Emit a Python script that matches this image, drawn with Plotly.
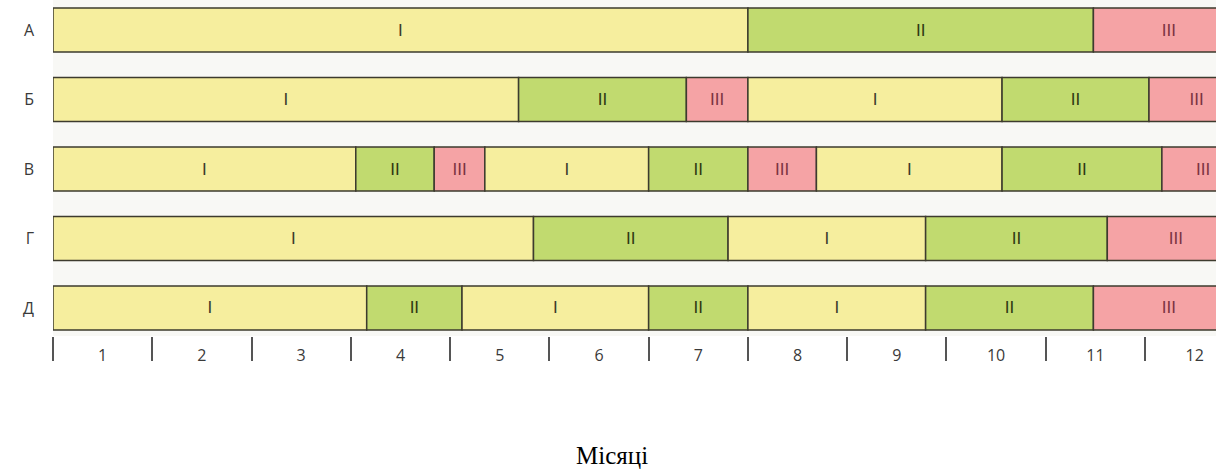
import plotly.graph_objects as go

# rows (top to bottom) and their phases; ends are in months from the start of month 1
rows = ["А", "Б", "В", "Г", "Д"]

phases_a = ["I", "II", "III"]
ends_a = [7.0, 10.48, 12.0]

phases_b = ["I", "II", "III", "I", "II", "III"]
ends_b = [4.69, 6.38, 7.0, 9.56, 11.04, 12.0]

phases_v = ["I", "II", "III", "I", "II", "III", "I", "II", "III"]
ends_v = [3.05, 3.84, 4.35, 6.0, 7.0, 7.69, 9.56, 11.17, 12.0]

phases_g = ["I", "II", "I", "II", "III"]
ends_g = [4.84, 6.8, 8.79, 10.62, 12.0]

phases_d = ["I", "II", "I", "II", "I", "II", "III"]
ends_d = [3.16, 4.12, 6.0, 7.0, 8.79, 10.48, 12.0]

months = [str(m) for m in range(1, 13)]

colors = {"I": "#f6ee9e", "II": "#c1da6f", "III": "#f5a3a5"}
text_colors = {"I": "#3b3a2c", "II": "#2e3813", "III": "#7c3342"}

data = [
    (phases_a, ends_a),
    (phases_b, ends_b),
    (phases_v, ends_v),
    (phases_g, ends_g),
    (phases_d, ends_d),
]

fig = go.Figure()
n = len(rows)
for i, (phases, ends) in enumerate(data):
    ypos = n - 1 - i
    start = 0.0
    for ph, end in zip(phases, ends):
        fig.add_trace(go.Bar(
            y=[ypos], x=[end - start], base=[start],
            orientation="h", width=0.633,
            marker=dict(color=colors[ph], line=dict(color="#3d3b2e", width=1.5)),
            text=[ph], textposition="inside", insidetextanchor="middle",
            textfont=dict(family="Liberation Sans", size=17, color=text_colors[ph]),
            constraintext="none",
            showlegend=False, hoverinfo="skip",
        ))
        start = end

fig.update_layout(
    width=1216, height=472,
    margin=dict(l=53, r=0, t=0, b=136),
    paper_bgcolor="white",
    plot_bgcolor="#f8f8f5",
    barmode="overlay",
    uniformtext=dict(minsize=17, mode="show"),
    xaxis=dict(
        range=[0, 11.715],
        automargin=False,
        tickvals=[m - 0.5 for m in range(1, 13)],
        ticktext=months,
        ticks="outside", ticklen=0,
        ticklabelstandoff=5,
        tickfont=dict(family="Open Sans", size=16, color="#3a3a3a"),
        showgrid=False, zeroline=False, showline=False,
        minor=dict(tickvals=list(range(0, 12)), ticks="outside",
                   ticklen=24, tickwidth=1.5, tickcolor="#555"),
    ),
    yaxis=dict(
        range=[-0.403, 4.432],
        automargin=False,
        tickvals=list(range(n)),
        ticktext=rows[::-1],
        ticks="", ticklabelstandoff=18,
        tickfont=dict(family="Open Sans", size=16, color="#3a3a3a"),
        showgrid=False, zeroline=False, showline=False,
    ),
    annotations=[dict(
        text="Місяці", xref="paper", yref="paper",
        x=0.4807, y=-0.357, xanchor="center", yanchor="middle",
        showarrow=False,
        font=dict(family="Liberation Serif", size=25, color="black"),
    )],
)

fig.write_html("out.html", config={"displayModeBar": False},
               post_script="document.body.style.margin = '0px';")
